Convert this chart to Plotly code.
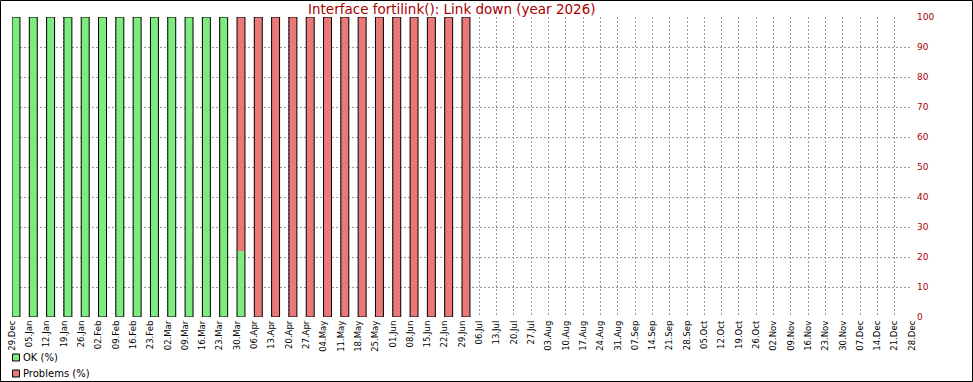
import plotly.graph_objects as go

weeks = ["29.Dec", "05.Jan", "12.Jan", "19.Jan", "26.Jan", "02.Feb", "09.Feb", "16.Feb", "23.Feb",
         "02.Mar", "09.Mar", "16.Mar", "23.Mar", "30.Mar", "06.Apr", "13.Apr", "20.Apr", "27.Apr",
         "04.May", "11.May", "18.May", "25.May", "01.Jun", "08.Jun", "15.Jun", "22.Jun", "29.Jun",
         "06.Jul", "13.Jul", "20.Jul", "27.Jul", "03.Aug", "10.Aug", "17.Aug", "24.Aug", "31.Aug",
         "07.Sep", "14.Sep", "21.Sep", "28.Sep", "05.Oct", "12.Oct", "19.Oct", "26.Oct", "02.Nov",
         "09.Nov", "16.Nov", "23.Nov", "30.Nov", "07.Dec", "14.Dec", "21.Dec", "28.Dec"]

ok_pct = [100, 100, 100, 100, 100, 100, 100, 100, 100, 100, 100, 100, 100, 22,
          0, 0, 0, 0, 0, 0, 0, 0, 0, 0, 0, 0, 0]
problems_pct = [0, 0, 0, 0, 0, 0, 0, 0, 0, 0, 0, 0, 0, 78,
                100, 100, 100, 100, 100, 100, 100, 100, 100, 100, 100, 100, 100]

y_ticks = [0, 10, 20, 30, 40, 50, 60, 70, 80, 90, 100]

GREEN = "#7deb7d"
RED = "#eb7878"
TXT_RED = "#aa0000"
GRID = "#999999"

W, H = 973, 382
L, R, T, B = 12, 61, 17, 65
PW, PH = W - L - R, H - T - B

def px_x(px):
    return (px - L) / PW

def px_y(py):
    return (H - B - py) / PH

def nz(vals):
    return [v if v else None for v in vals]

n = len(ok_pct)
xs = list(range(n))
totals = [a + b for a, b in zip(ok_pct, problems_pct)]

BW = 0.46
fig = go.Figure()
fig.add_trace(go.Bar(x=xs, y=nz(ok_pct), base=0, name="OK (%)", width=BW, offset=0,
                     marker=dict(color=GREEN, line=dict(width=0))))
fig.add_trace(go.Bar(x=xs, y=nz(problems_pct), base=ok_pct, name="Problems (%)", width=BW, offset=0,
                     marker=dict(color=RED, line=dict(width=0))))
fig.add_trace(go.Bar(x=xs, y=totals, base=0, name="outline", width=BW, offset=0,
                     marker=dict(color="rgba(0,0,0,0)", line=dict(color="black", width=1)),
                     hoverinfo="skip"))

fig.update_layout(
    width=W, height=H,
    barmode="overlay",
    showlegend=False,
    margin=dict(l=L, r=R, t=T, b=B, pad=0, autoexpand=False),
    paper_bgcolor="white", plot_bgcolor="white",
    font=dict(family="DejaVu Sans", color="black"),
    xaxis=dict(range=[0, len(weeks) - 1], tickmode="array",
               tickvals=list(range(len(weeks))), ticktext=weeks,
               tickangle=-90, tickfont=dict(size=8.5, color="black"),
               showgrid=True, gridcolor=GRID, griddash="2px,2px", gridwidth=1,
               zeroline=False, showline=False, ticks="", automargin=False,
               ticklabelstandoff=1, fixedrange=True),
    yaxis=dict(range=[0, 100], side="right", tickmode="array", tickvals=y_ticks,
               tickfont=dict(size=9, color=TXT_RED),
               showgrid=True, gridcolor=GRID, griddash="2px,2px", gridwidth=1,
               zeroline=False, showline=False, ticks="", automargin=False,
               ticklabelstandoff=4, fixedrange=True),
)

# Title
fig.add_annotation(text="Interface fortilink(): Link down (year 2026)",
                   xref="paper", yref="paper", x=px_x(452), y=px_y(9),
                   xanchor="center", yanchor="middle", showarrow=False,
                   font=dict(size=13.5, color=TXT_RED, family="DejaVu Sans"))

# Custom legend
legend_items = [("OK (%)", GREEN, 357.5), ("Problems (%)", RED, 373.5)]
for label, col, cy in legend_items:
    fig.add_shape(type="rect", xref="paper", yref="paper",
                  x0=px_x(12.5), x1=px_x(19.5), y0=px_y(cy - 3.5), y1=px_y(cy + 3.5),
                  fillcolor=col, line=dict(color="black", width=1))
    fig.add_annotation(text=label, xref="paper", yref="paper", x=px_x(21), y=px_y(cy),
                       xanchor="left", yanchor="middle", showarrow=False,
                       font=dict(size=10, color="black", family="DejaVu Sans"))

# Outer border
fig.add_shape(type="rect", xref="paper", yref="paper",
              x0=px_x(0.5), x1=px_x(W - 0.5), y0=px_y(H - 0.5), y1=px_y(0.5),
              line=dict(color="black", width=1), fillcolor="rgba(0,0,0,0)", layer="above")

fig.write_html("out.html")
